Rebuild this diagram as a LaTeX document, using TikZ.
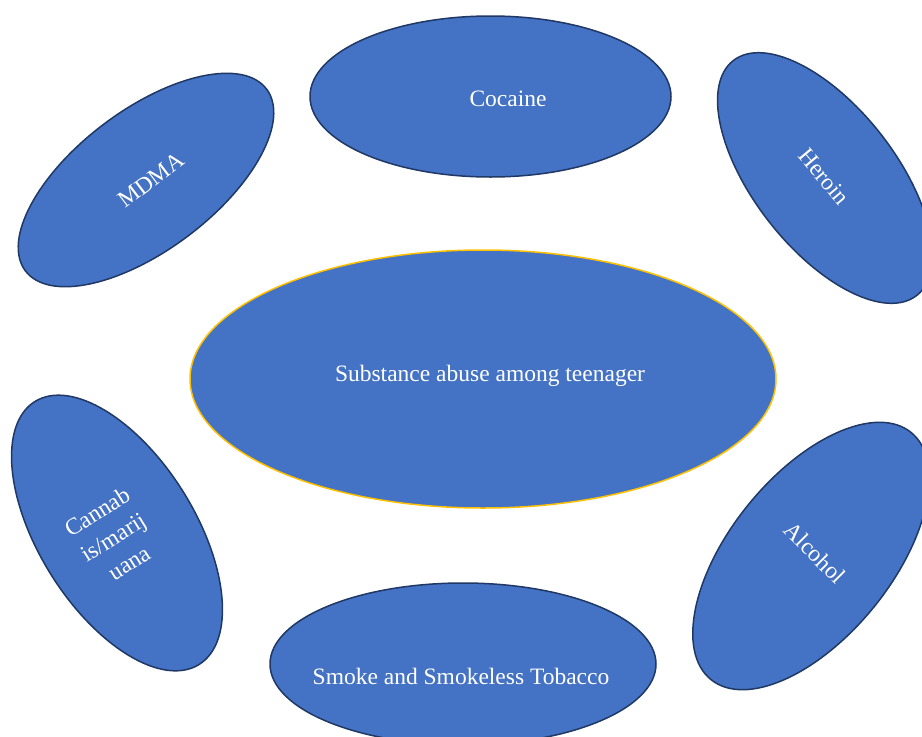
\documentclass[tikz,border=0pt]{standalone}
\usepackage{fontspec}
\setmainfont{Liberation Serif}
\usetikzlibrary{shapes.geometric}

\definecolor{fillblue}{HTML}{4472C4}
\definecolor{edgeblue}{HTML}{1F3864}
\definecolor{gold}{HTML}{FFC000}

\tikzset{
  blob/.style={ellipse, draw=edgeblue, fill=fillblue, line width=1.5pt, inner sep=0pt},
  lbl/.style={text=white, font=\fontsize{23.5}{30}\selectfont, align=center, inner sep=0pt}
}

\begin{document}
\begin{tikzpicture}[x=1pt,y=-1pt]
       \clip (0,0) rectangle (922,737);

       \node(S)[blob, draw=gold, minimum width=586pt, minimum height=258pt] at (483,379) {};
       \node(NS)[lbl] at (490,376) {Substance abuse among teenager};

       \node(C)[blob, minimum width=361pt, minimum height=161pt] at (490.5,96.5) {};
       \node(NC)[lbl] at (508,99) {Cocaine};

       \node(M)[blob, minimum width=302pt, minimum height=140pt, rotate=37] at (146,180) {};
       \node(NM)[lbl, rotate=37] at (151,180) {MDMA};

       \node(H)[blob, minimum width=298pt, minimum height=142pt, rotate=-52] at (825,178) {};
       \node(NH)[lbl, rotate=-50] at (824,177) {Heroin};

       \node(K)[blob, minimum width=310pt, minimum height=156pt, rotate=-58] at (117,533) {};
       \node(NK)[lbl, rotate=32] at (113,537) {Cannab\\is/marij\\uana};

       \node(A)[blob, minimum width=318pt, minimum height=162pt, rotate=51] at (811,556) {};
       \node(NA)[lbl, rotate=-45] at (815,553) {Alcohol};

       \node(T)[blob, minimum width=386pt, minimum height=162pt] at (463,664) {};
       \node(NT)[lbl] at (461,676) {Smoke and Smokeless Tobacco};

      \end{tikzpicture}
\end{document}
